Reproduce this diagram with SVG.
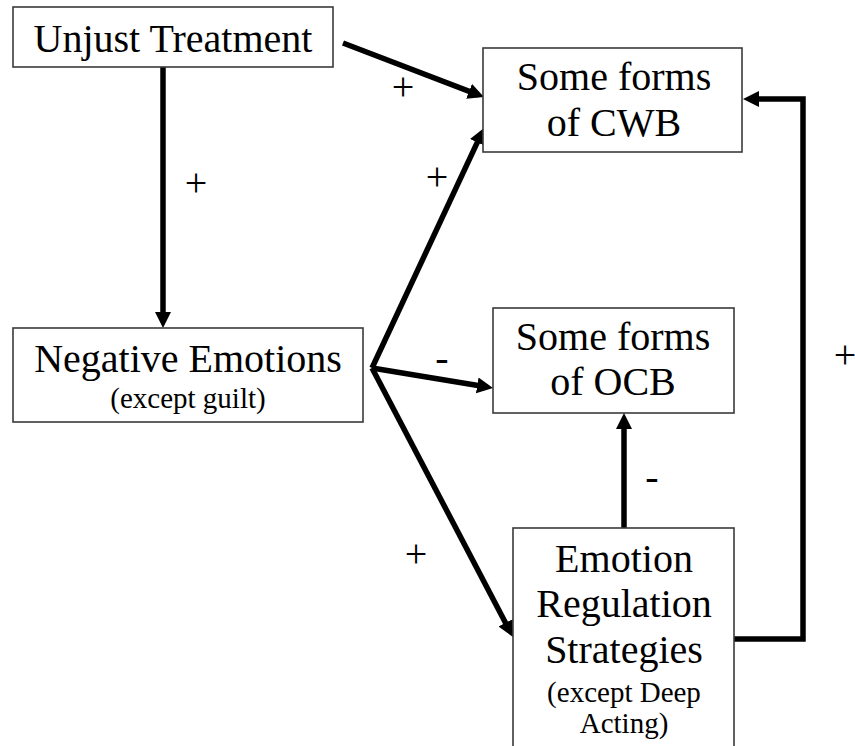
<svg xmlns="http://www.w3.org/2000/svg" width="855" height="746" viewBox="0 0 855 746">
<style>
.box{fill:#fff;stroke:#3a3a3a;stroke-width:1.6}
.c{fill:none;stroke:#000;stroke-width:5.5;stroke-linejoin:miter}
</style>
<defs>
<marker id="ah" markerUnits="userSpaceOnUse" markerWidth="18" markerHeight="18" refX="10" refY="8" orient="auto">
<path d="M0,0 L16,8 L0,16 z" fill="#000"/>
</marker>
</defs>
<rect width="855" height="746" fill="#fff"/>
<g id="connectors">
<line class="c" x1="163" y1="67" x2="163" y2="322" marker-end="url(#ah)"/>
<line class="c" x1="343" y1="43" x2="478.4" y2="94.9" marker-end="url(#ah)"/>
<line class="c" x1="372" y1="368" x2="481.5" y2="133.4" marker-end="url(#ah)"/>
<line class="c" x1="372" y1="368" x2="487.1" y2="387" marker-end="url(#ah)"/>
<line class="c" x1="372" y1="368" x2="510.2" y2="631.7" marker-end="url(#ah)"/>
<line class="c" x1="624" y1="528" x2="624" y2="419" marker-end="url(#ah)"/>
<polyline class="c" points="734,639 803,639 803,99 749,99" marker-end="url(#ah)"/>
</g>
<g id="labels" text-anchor="middle" fill="#000">
<text x="403" y="100" font-family="Liberation Serif" font-size="40" style="font-family:'Liberation Serif'">+</text>
<text x="196" y="196" font-family="Liberation Serif" font-size="40" style="font-family:'Liberation Serif'">+</text>
<text x="437" y="190" font-family="Liberation Serif" font-size="40" style="font-family:'Liberation Serif'">+</text>
<text x="442" y="371" font-family="Liberation Serif" font-size="40" style="font-family:'Liberation Serif'">-</text>
<text x="416" y="567" font-family="Liberation Serif" font-size="40" style="font-family:'Liberation Serif'">+</text>
<text x="652" y="490" font-family="Liberation Serif" font-size="40" style="font-family:'Liberation Serif'">-</text>
<text x="845" y="368" font-family="Liberation Serif" font-size="40" style="font-family:'Liberation Serif'">+</text>
</g>
<g id="unjust" text-anchor="middle" fill="#000">
<rect class="box" x="13" y="7" width="320" height="60"/>
<text x="173" y="52" font-family="Liberation Serif" font-size="40" style="font-family:'Liberation Serif'">Unjust Treatment</text>
</g>
<g id="cwb" text-anchor="middle" fill="#000">
<rect class="box" x="483" y="48" width="259" height="104"/>
<text x="614" y="90" font-family="Liberation Serif" font-size="40" style="font-family:'Liberation Serif'">Some forms</text>
<text x="614" y="136" font-family="Liberation Serif" font-size="40" style="font-family:'Liberation Serif'">of CWB</text>
</g>
<g id="negative" text-anchor="middle" fill="#000">
<rect class="box" x="13" y="328" width="350" height="94"/>
<text x="188" y="372" font-family="Liberation Serif" font-size="40" style="font-family:'Liberation Serif'">Negative Emotions</text>
<text x="188" y="408" font-family="Liberation Serif" font-size="29" style="font-family:'Liberation Serif'">(except guilt)</text>
</g>
<g id="ocb" text-anchor="middle" fill="#000">
<rect class="box" x="493" y="308" width="241" height="105"/>
<text x="613" y="350" font-family="Liberation Serif" font-size="40" style="font-family:'Liberation Serif'">Some forms</text>
<text x="613" y="395" font-family="Liberation Serif" font-size="40" style="font-family:'Liberation Serif'">of OCB</text>
</g>
<g id="ers" text-anchor="middle" fill="#000">
<rect class="box" x="513" y="528" width="221" height="240"/>
<text x="624" y="572" font-family="Liberation Serif" font-size="40" style="font-family:'Liberation Serif'">Emotion</text>
<text x="624" y="617" font-family="Liberation Serif" font-size="40" style="font-family:'Liberation Serif'">Regulation</text>
<text x="624" y="663" font-family="Liberation Serif" font-size="40" style="font-family:'Liberation Serif'">Strategies</text>
<text x="624" y="702" font-family="Liberation Serif" font-size="29" style="font-family:'Liberation Serif'">(except Deep</text>
<text x="624" y="733" font-family="Liberation Serif" font-size="29" style="font-family:'Liberation Serif'">Acting)</text>
</g>
</svg>
